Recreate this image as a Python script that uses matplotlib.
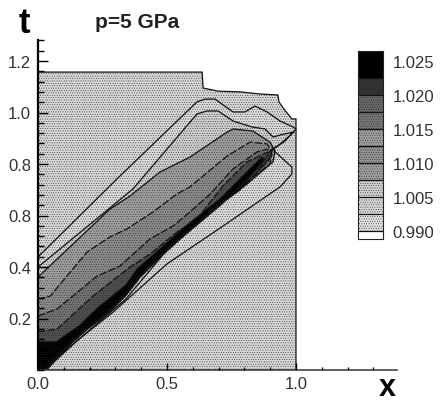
import matplotlib
matplotlib.use("Agg")
import matplotlib.pyplot as plt
from matplotlib.ticker import MultipleLocator, FixedLocator, FixedFormatter

plt.rcParams['font.family'] = ['Liberation Sans', 'DejaVu Sans']
plt.rcParams['hatch.linewidth'] = 0.3

# contour outlines, outermost first
domain_x = [0, 0, .636, .640, .698, .783, .860, .930, .934, .953, .984, 1.0, 1.0, 0]
domain_t = [0, 1.157, 1.157, 1.095, 1.083, 1.080, 1.072, 1.068, 1.041, 1.014, .975, .975, 0, 0]

c1_x = [0, .306, .616, .647, .686, .756, .802, .841, .888, .938, .988, 1.0, .953, .907, .984, .984, .938, .717, .5, .291, .120, .039, .023, 0]
c1_t = [.439, .742, 1.041, 1.052, 1.052, 1.002, 1.002, 1.025, 1.002, .967, .944, .936, .885, .858, .788, .761, .711, .559, .412, .225, .089, .012, 0, 0]

c2_x = [0, .368, .616, .655, .698, .756, .829, .880, .911, .957, .992, .930, .899, .868, .713, .5, .341, .159, .066, .031, 0]
c2_t = [.400, .703, .994, 1.006, 1.006, .967, .944, .936, .905, .917, .924, .870, .850, .800, .645, .466, .276, .120, .035, 0, 0]

# the inner contours all close along the same steep front
front_x = [.713, .601, .473, .395, .341, .271, .186, .120, .039, .023, 0]
front_t = [.649, .555, .439, .361, .291, .221, .155, .097, .008, 0, 0]

c3_x = [0, .279, .357, .473, .589, .733, .756, .833, .899, .919, .911, .810]
c3_t = [.361, .625, .676, .769, .827, .924, .936, .928, .885, .850, .808, .722]

c4_x = [0, .047, .190, .279, .345, .446, .539, .589, .733, .822, .888, .907, .899, .814]
c4_t = [.276, .287, .458, .517, .548, .614, .684, .711, .831, .885, .878, .850, .827, .730]

c5_x = [0, .074, .229, .318, .434, .523, .589, .667, .756, .849, .891, .907, .899, .814]
c5_t = [.21, .237, .365, .404, .509, .559, .614, .683, .781, .847, .858, .839, .800, .734]

c6_x = [0, .074, .213, .357, .434, .539, .616, .717, .810, .891, .899, .783]
c6_t = [.148, .159, .287, .400, .450, .536, .586, .715, .808, .847, .819, .699]

core_x = [0, .070, .159, .236, .341, .384, .473, .578, .705, .783, .868, .876, .783, .713, .601, .473, .395, .341, .271, .186, .120, .039, .023, 0]
core_t = [.109, .109, .171, .245, .330, .392, .470, .563, .664, .742, .827, .819, .703, .652, .559, .443, .365, .295, .225, .159, .101, .012, 0, 0]

outlines = [(domain_x, domain_t), (c1_x, c1_t), (c2_x, c2_t),
            (c3_x + front_x, c3_t + front_t), (c4_x + front_x, c4_t + front_t),
            (c5_x + front_x, c5_t + front_t), (c6_x + front_x, c6_t + front_t),
            (core_x, core_t)]
greys = ['#d8d8d8', '#dcdcdc', '#d0d0d0', '#a0a0a0', '#8c8c8c', '#747474', '#505050', '#000000']
line_styles = ['-', '-', '-', '-', (0, (6, 1.5)), (0, (6, 1.5)), (0, (6, 1.5)), '-']

# legend bands, bottom to top
band_edges = [-.5, 0, 1, 2, 3, 4, 5, 6, 7, 8, 9, 10.57]
band_greys = ['#ffffff', '#e0e0e0', '#d8d8d8', '#d0d0d0', '#a0a0a0', '#949494', '#a0a0a0', '#787878', '#686868', '#343434', '#000000']
level_pos = [0, 2, 4, 6, 8, 10]
level_labels = ['0.990', '1.005', '1.010', '1.015', '1.020', '1.025']

y_ticks = [.2, .4, .6, .8, 1.0, 1.2]
y_labels = ['0.2', '0.4', '0.8', '0.8', '1.0', '1.2']
x_ticks = [0, .5, 1.0]
x_labels = ['0.0', '0.5', '1.0']

W, H = 445, 402
fig = plt.figure(figsize=(W/100, H/100), dpi=100)
ax = fig.add_axes([38/W, 1-371/H, 359/W, 330/H])
for (ox, ot), g, ls in zip(outlines, greys, line_styles):
    ax.fill(ox, ot, facecolor=g, edgecolor='#222222', hatch='.......', lw=0)
    ax.plot(ox, ot, color='#111111', lw=0.9, ls=ls)

ax.set_xlim(0, 359/258)
ax.set_ylim(0, 330/257.5)
ax.spines['top'].set_visible(False)
ax.spines['right'].set_visible(False)
ax.spines['left'].set_linewidth(1.6)
ax.spines['bottom'].set_color('#444444')
ax.spines['bottom'].set_linewidth(1.2)
ax.xaxis.set_major_locator(FixedLocator(x_ticks))
ax.xaxis.set_major_formatter(FixedFormatter(x_labels))
ax.yaxis.set_major_locator(FixedLocator(y_ticks))
ax.yaxis.set_major_formatter(FixedFormatter(y_labels))
ax.xaxis.set_minor_locator(MultipleLocator(.1))
ax.yaxis.set_minor_locator(MultipleLocator(.04))
ax.tick_params(axis='y', which='major', direction='in', length=7, width=1, labelsize=12, labelcolor='#333333', pad=5)
ax.tick_params(axis='y', which='minor', direction='in', length=4, width=1)
ax.tick_params(axis='x', which='major', direction='in', length=5, width=1, labelsize=12, labelcolor='#333333', pad=4)
ax.tick_params(axis='x', which='minor', direction='in', length=2.5, width=1)
ax.set_axisbelow(False)

fig.text(24/W, 1-33/H, 't', fontsize=25, fontweight='bold', ha='center', va='baseline')
fig.text(387/W, 1-396/H, 'x', fontsize=22, fontweight='bold', ha='center', va='baseline')
fig.text(137/W, 1-28/H, 'p=5 GPa', fontsize=15, fontweight='bold', ha='center', va='baseline', color='#222222')

# legend
cax = fig.add_axes([358/W, 1-240/H, 25/W, 188/H])
for i, g in enumerate(band_greys):
    cax.bar(0, band_edges[i+1]-band_edges[i], bottom=band_edges[i], width=1,
            color=g, edgecolor='#222222', hatch='.......' if 0 < i < 10 else None, lw=0)
cax.hlines(band_edges[1:-1], -.5, .5, color='#111111', lw=0.9)
cax.set_xlim(-.5, .5)
cax.set_ylim(band_edges[0], band_edges[-1])
cax.set_xticks([])
cax.yaxis.tick_right()
cax.set_yticks(level_pos)
cax.set_yticklabels(level_labels)
cax.tick_params(axis='y', length=0, labelsize=12, labelcolor='#333333', pad=7)
for s in cax.spines.values():
    s.set_color('#222222')

fig.savefig("out.png", dpi=100)
